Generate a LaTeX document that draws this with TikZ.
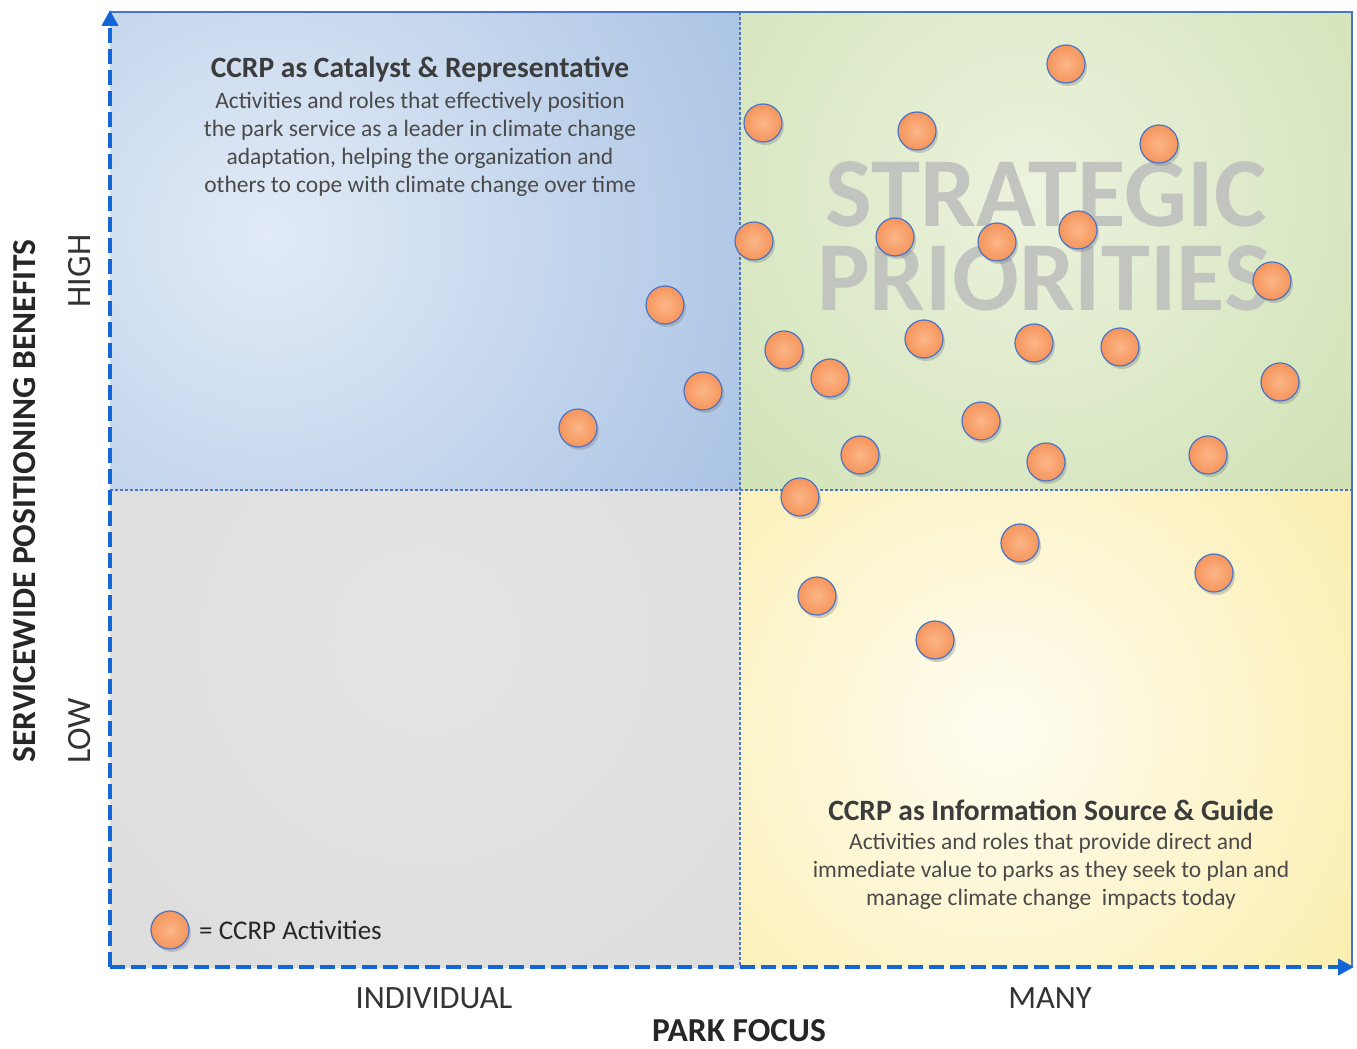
\documentclass[tikz,border=0pt]{standalone}
\usepackage{fontspec}
\setmainfont{Carlito}
\usetikzlibrary{shadows,arrows.meta}
\definecolor{axisblue}{HTML}{1466D6}
\definecolor{edgeblue}{HTML}{4A74C8}
\definecolor{textgray}{HTML}{4A4A4A}
\definecolor{titlegray}{HTML}{3C3C3C}
\definecolor{actin}{HTML}{FCB688}
\definecolor{actout}{HTML}{F5955C}
\definecolor{blueout}{HTML}{88ABDA}
\definecolor{bluein}{HTML}{E2EBF6}
\definecolor{greenout}{HTML}{B3D08C}
\definecolor{greenin}{HTML}{ECF3DE}
\definecolor{grayout}{HTML}{D6D6D6}
\definecolor{grayin}{HTML}{E4E4E4}
\definecolor{yellowout}{HTML}{F7E27A}
\definecolor{yellowin}{HTML}{FFFDF2}
\definecolor{wordgray}{HTML}{C2C4C0}
\tikzset{
  activity/.style={circle, minimum size=38pt, inner sep=0pt, draw=edgeblue, line width=1.2pt,
    inner color=actin, outer color=actout,
    drop shadow={shadow xshift=2pt, shadow yshift=-3pt, opacity=0.35}},
  axis/.style={axisblue, line width=4.5pt, dash pattern=on 15pt off 6pt,
    -{Triangle[length=16pt,width=16pt]}},
  divider/.style={edgeblue, line width=1.4pt, dash pattern=on 3pt off 2pt},
  bigword/.style={font=\fontsize{99}{84}\selectfont\bfseries, text=wordgray, inner sep=0pt,
    text height=63pt, text depth=0pt, anchor=base},
  quadtitle/.style={font=\fontsize{29.5}{34}\selectfont\bfseries, text=titlegray, inner sep=0pt},
  quadbody/.style={font=\fontsize{23.5}{28}\selectfont, text=textgray, align=center, inner sep=0pt},
  axislabel/.style={font=\fontsize{32.5}{38}\selectfont, text=black!80, inner sep=0pt},
  sidelabel/.style={font=\fontsize{34}{38}\selectfont, text=black!80, inner sep=0pt, rotate=90},
  axistitle/.style={font=\fontsize{33.5}{38}\selectfont\bfseries, text=black!85, inner sep=0pt},
}
\begin{document}
\begin{tikzpicture}[x=1pt,y=-1pt]
\useasboundingbox (0,0) rectangle (1357,1049);
\fill[white] (0,0) rectangle (1357,1049);

% quadrant backgrounds
\begin{scope}
  \clip (110,12) rectangle (740,490);
  \fill[blueout] (110,12) rectangle (740,490);
  \shade[inner color=bluein, outer color=blueout] (270,235) circle (860);
\end{scope}
\begin{scope}
  \clip (740,12) rectangle (1352,490);
  \fill[greenout] (740,12) rectangle (1352,490);
  \shade[inner color=greenin, outer color=greenout] (1030,190) circle (880);
\end{scope}
\begin{scope}
  \clip (110,490) rectangle (740,967);
  \fill[grayout] (110,490) rectangle (740,967);
  \shade[inner color=grayin, outer color=grayout] (425,640) circle (900);
\end{scope}
\begin{scope}
  \clip (740,490) rectangle (1352,967);
  \fill[yellowout] (740,490) rectangle (1352,967);
  \shade[inner color=yellowin, outer color=yellowout] (1000,730) circle (760);
\end{scope}

% outer frame and quadrant dividers
\draw[edgeblue, line width=1.2pt] (110,12) -- (1352,12) -- (1352,967);
\draw[divider] (740,12) -- (740,967);
\draw[divider] (110,490) -- (1352,490);

% axes
\coordinate (origin) at (110,967);
\coordinate (ytop) at (110,10);
\coordinate (xend) at (1354,967);
\draw[axis] (origin) -- (ytop);
\draw[axis] (origin) -- (xend);

% background words
\node[bigword] (strat1) at (1046,226) {STRATEGIC};
\node[bigword] (strat2) at (1044,310) {PRIORITIES};

% quadrant descriptions
\node[quadtitle] (cattitle) at (420,69) {CCRP as Catalyst \& Representative};
\node[quadbody, anchor=north] (catbody) at (420,92) {Activities and roles that effectively position\\the park service as a leader in climate change\\adaptation, helping the organization and\\others to cope with climate change over time};
\node[quadtitle] (inftitle) at (1051,810) {CCRP as Information Source \& Guide};
\node[quadbody, anchor=north] (infbody) at (1051,833) {Activities and roles that provide direct and\\immediate value to parks as they seek to plan and\\manage climate change\ \ impacts today};

% activities
\foreach \n/\px/\py in {
  1/1066/64, 2/763/123, 3/917/131, 4/1159/144, 5/754/241, 6/895/237, 7/997/242,
  8/1078/230, 9/1272/281, 10/665/305, 11/784/350, 12/924/339, 13/1034/343,
  14/1120/347, 15/830/378, 16/1280/382, 17/703/391, 18/578/428, 19/981/421,
  20/860/455, 21/1046/462, 22/1208/455, 23/800/497, 24/1020/543, 25/1214/573,
  26/817/596, 27/935/640}
  \node[activity] (act\n) at (\px,\py) {};

% legend
\node[activity] (legdot) at (170,930) {};
\node[font=\fontsize{27}{30}\selectfont, text=black!85, anchor=west, inner sep=0pt] (legtext) at (199,930) {= CCRP Activities};

% axis labels
\node[axislabel] (lindiv) at (434,998) {INDIVIDUAL};
\node[axislabel] (lmany) at (1050,998) {MANY};
\node[axistitle] (xtitle) at (739,1031) {PARK FOCUS};
\node[axistitle, rotate=90] (ytitle) at (25,501) {SERVICEWIDE POSITIONING BENEFITS};
\node[sidelabel] (lhigh) at (80,271) {HIGH};
\node[sidelabel] (llow) at (80,731) {LOW};
\end{tikzpicture}
\end{document}
